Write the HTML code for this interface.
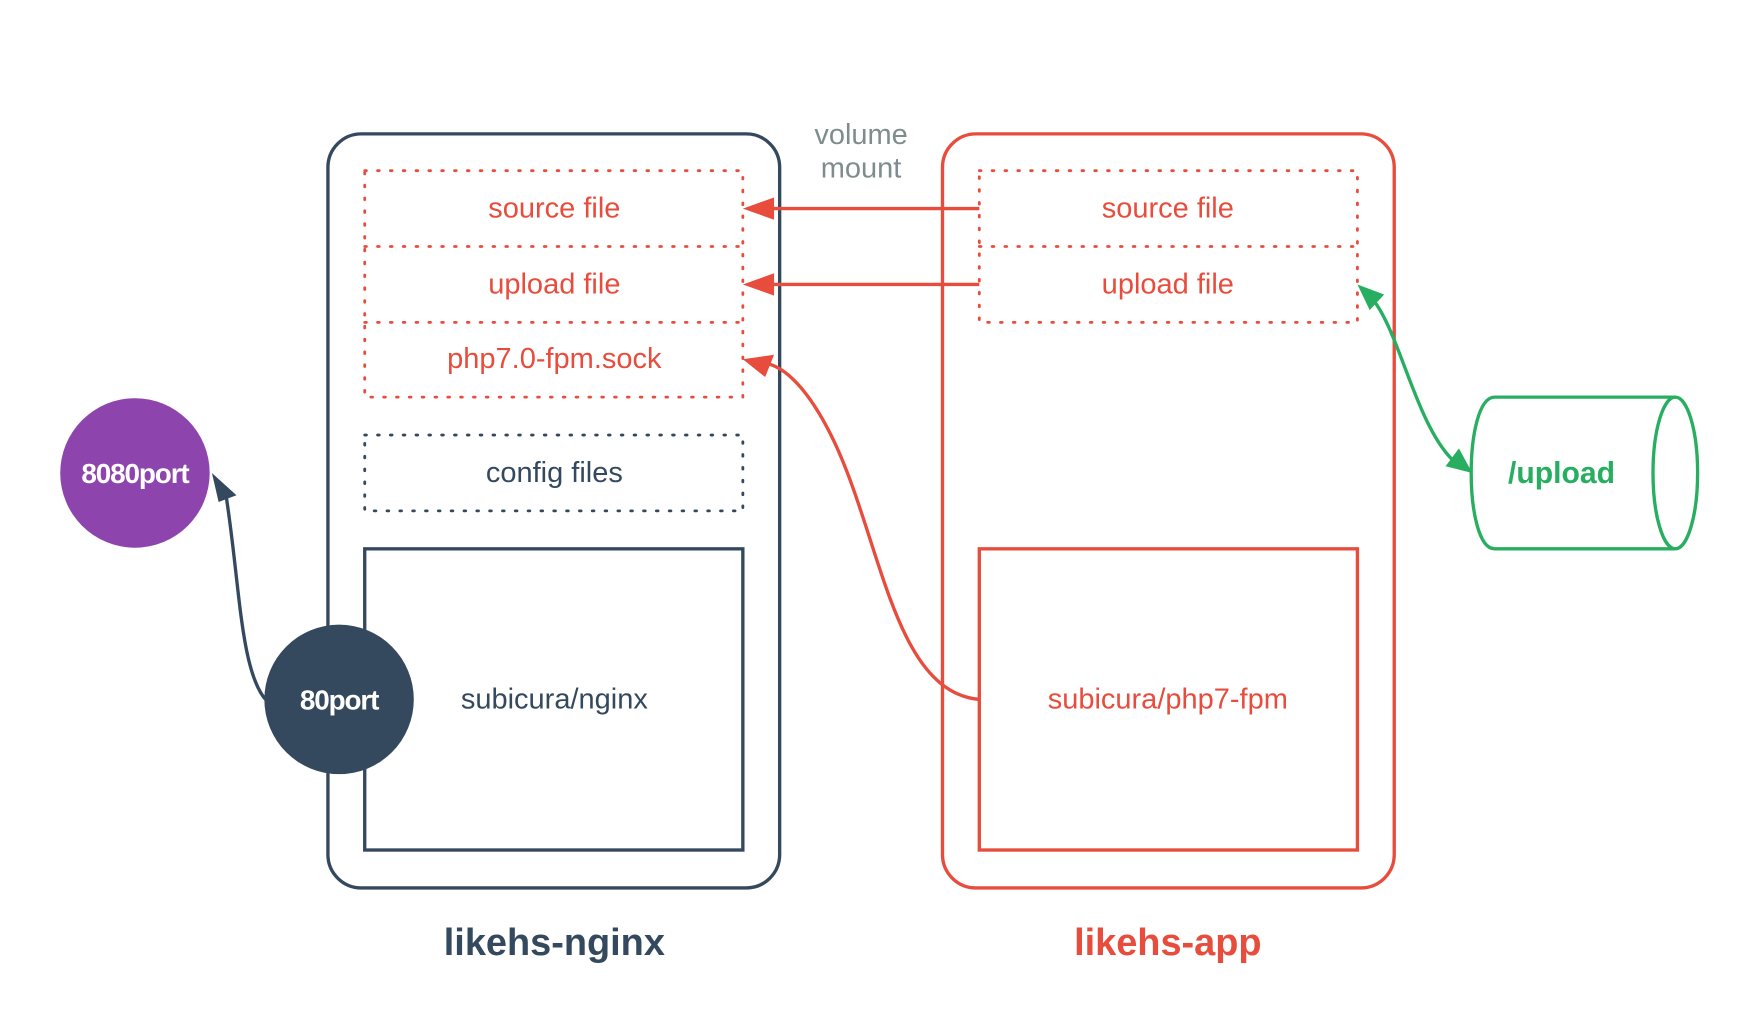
<!DOCTYPE html>
<html><head><meta charset="utf-8"><style>
html,body{margin:0;padding:0;background:#fff;}
svg{display:block;}
text{font-family:"Liberation Sans",sans-serif;}
</style></head><body>
<svg width="1740" height="1014" viewBox="0 0 1560 909" preserveAspectRatio="none" xmlns="http://www.w3.org/2000/svg">
<defs>
<marker id="ar" markerWidth="10" markerHeight="10" refX="8" refY="5" orient="auto" markerUnits="userSpaceOnUse"><path d="M0,0 L0,0" /></marker>
</defs>
<!-- boxes -->
<rect x="294" y="120" width="405" height="676" rx="30" fill="none" stroke="#34495e" stroke-width="3"/>
<rect x="845" y="120" width="405" height="676" rx="30" fill="none" stroke="#e74c3c" stroke-width="3"/>
<!-- nginx dotted -->
<g fill="none" stroke="#e74c3c" stroke-width="2.5" stroke-dasharray="1.5 10" stroke-linecap="round">
<rect x="327" y="153" width="339" height="203"/>
<line x1="327" y1="221" x2="666" y2="221"/>
<line x1="327" y1="289" x2="666" y2="289"/>
<rect x="878" y="153" width="339" height="136"/>
<line x1="878" y1="221" x2="1217" y2="221"/>
</g>
<rect x="327" y="390" width="339" height="68" fill="none" stroke="#34495e" stroke-width="2.5" stroke-dasharray="1.5 10" stroke-linecap="round"/>
<rect x="327" y="492" width="339" height="270" fill="#fff" stroke="#34495e" stroke-width="3"/>
<rect x="878" y="492" width="339" height="270" fill="none" stroke="#e74c3c" stroke-width="3"/>
<!-- arrows -->
<g stroke="#e74c3c" stroke-width="3" fill="none">
<line x1="878" y1="187" x2="690" y2="187"/>
<line x1="878" y1="255" x2="690" y2="255"/>
<path d="M878,627 C800,620 790,480 745,390 C725,350 705,330 688,326"/>
</g>
<g fill="#e74c3c">
<polygon points="666,187 694,177 694,197"/>
<polygon points="666,255 694,245 694,265"/>
<polygon points="666,322 694,318 686,338"/>
</g>
<path d="M238,627 C215,600 215,520 202,440" stroke="#34495e" stroke-width="3" fill="none"/>
<polygon points="190,424 212,444 196,450" fill="#34495e"/>
<!-- green -->
<path d="M1232,270 C1255,300 1270,380 1302,412" stroke="#27ae60" stroke-width="3" fill="none"/>
<polygon points="1217,255 1241,264 1228,278" fill="#27ae60"/>
<polygon points="1320,424 1296,418 1308,402" fill="#27ae60"/>
<!-- cylinder -->
<path d="M1340,356 L1502,356 M1340,492 L1502,492 M1340,356 C1312,356 1312,492 1340,492" stroke="#27ae60" stroke-width="3" fill="#fff"/>
<ellipse cx="1502" cy="424" rx="20" ry="68" fill="none" stroke="#27ae60" stroke-width="3"/>
<text x="1400" y="433" text-anchor="middle" font-size="27" font-weight="bold" fill="#27ae60">/upload</text>
<!-- circles -->
<circle cx="121" cy="424" r="67" fill="#8e44ad"/>
<text x="121" y="433" text-anchor="middle" font-size="25" font-weight="bold" fill="#fff" letter-spacing="-1">8080port</text>
<circle cx="304" cy="627" r="67" fill="#34495e"/>
<text x="304" y="636" text-anchor="middle" font-size="25" font-weight="bold" fill="#fff" letter-spacing="-1">80port</text>
<!-- texts -->
<g font-size="26" text-anchor="middle">
<text x="497" y="195" fill="#e74c3c">source file</text>
<text x="497" y="263" fill="#e74c3c">upload file</text>
<text x="497" y="330" fill="#e74c3c">php7.0-fpm.sock</text>
<text x="497" y="432" fill="#34495e">config files</text>
<text x="497" y="635" fill="#34495e">subicura/nginx</text>
<text x="1047" y="195" fill="#e74c3c">source file</text>
<text x="1047" y="263" fill="#e74c3c">upload file</text>
<text x="1047" y="635" fill="#e74c3c">subicura/php7-fpm</text>
<text x="772" y="129" fill="#7f8c8d">volume</text>
<text x="772" y="159" fill="#7f8c8d">mount</text>
</g>
<text x="497" y="856" text-anchor="middle" font-size="34" font-weight="bold" fill="#34495e">likehs-nginx</text>
<text x="1047" y="856" text-anchor="middle" font-size="34" font-weight="bold" fill="#e74c3c">likehs-app</text>
</svg>
</body></html>
